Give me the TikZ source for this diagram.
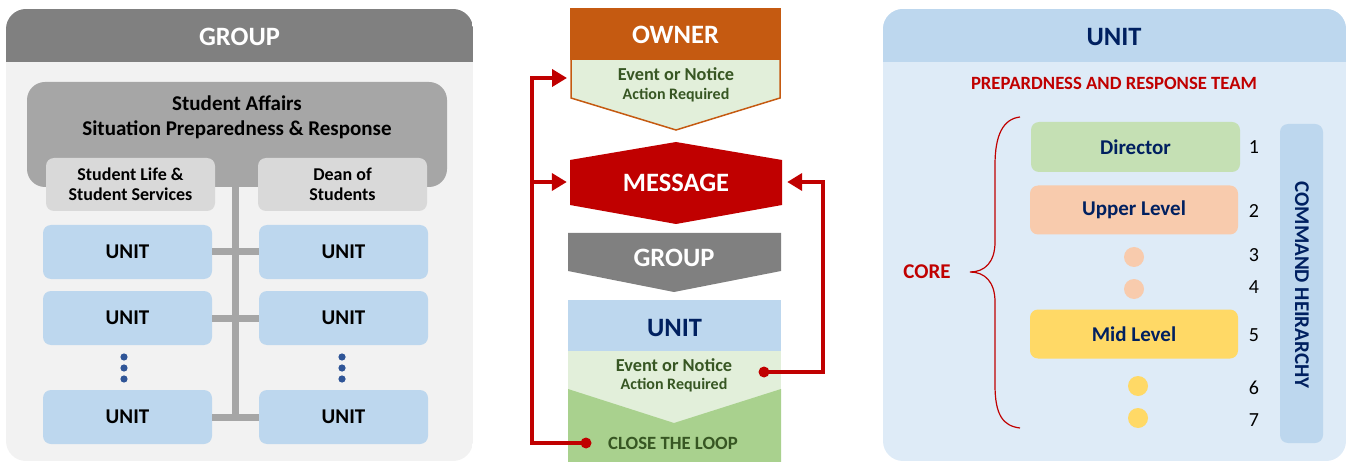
\documentclass[tikz,border=0pt]{standalone}
\usepackage{fontspec}
\setmainfont{Carlito}
\usetikzlibrary{arrows.meta}
\definecolor{hdrgray}{HTML}{808080}
\definecolor{bodygray}{HTML}{F2F2F2}
\definecolor{midgray}{HTML}{A6A6A6}
\definecolor{ltgray}{HTML}{D9D9D9}
\definecolor{unitblue}{HTML}{BDD7EE}
\definecolor{paleblue}{HTML}{DEEBF7}
\definecolor{navy}{HTML}{002060}
\definecolor{dotblue}{HTML}{2F5597}
\definecolor{ownor}{HTML}{C55A11}
\definecolor{palegreen}{HTML}{E2EFDA}
\definecolor{dkgreen}{HTML}{375623}
\definecolor{midgreen}{HTML}{A9D18E}
\definecolor{msgred}{HTML}{C00000}
\definecolor{dirgreen}{HTML}{C5E0B4}
\definecolor{peach}{HTML}{F8CBAD}
\definecolor{gold}{HTML}{FFD966}
\newcommand{\fs}[1]{\fontsize{#1}{#1}\selectfont}
\tikzset{
  hdrtext/.style={inner sep=0, font=\fs{26.5}\bfseries, text=white},
  unitbox/.style={fill=unitblue, rounded corners=8pt, minimum width=169pt, minimum height=54pt, inner sep=0, font=\fs{21}\bfseries},
  subbox/.style={fill=ltgray, rounded corners=8pt, minimum width=169pt, minimum height=53pt, inner sep=0, align=center, font=\fs{18}\bfseries},
  trunkline/.style={draw=midgray, line width=7pt},
  greentext/.style={inner sep=0, text=dkgreen, font=\fs{18.3}\bfseries},
  greensmall/.style={inner sep=0, text=dkgreen, font=\fs{16}\bfseries},
  redline/.style={draw=msgred, line width=4pt},
  redarrow/.style={redline, -{Triangle[length=15pt,width=17pt]}},
  levelbox/.style={rounded corners=8pt, minimum width=208pt, minimum height=49pt, inner sep=0, text=navy, font=\fs{21}\bfseries},
  numtext/.style={inner sep=0, font=\fs{20}},
}
\begin{document}
\begin{tikzpicture}[x=1pt,y=-1pt]
\useasboundingbox (0,0) rectangle (1351,462);
% ---------------- left panel
\begin{scope}
\clip[rounded corners=20pt] (6,9) rectangle (473,461);
\fill[bodygray] (6,9) rectangle (473,461);
\fill[hdrgray] (6,9) rectangle (473,62);
\end{scope}
\node[hdrtext] (lgroup) at (239.5,37) {GROUP};
\node[fill=midgray, rounded corners=18pt, minimum width=420pt, minimum height=105pt, inner sep=0] (sa) at (237,134.5) {};
\node[inner sep=0, align=center, font=\fs{21}\bfseries] (satext) at (237,117) {Student Affairs\\[4pt]Situation Preparedness \& Response};
\coordinate (trunk) at (235,0);
\node[unitbox] (u1l) at (127.5,252) {UNIT};
\node[unitbox] (u1r) at (343.5,252) {UNIT};
\node[unitbox] (u2l) at (127.5,318) {UNIT};
\node[unitbox] (u2r) at (343.5,318) {UNIT};
\node[unitbox] (u3l) at (127.5,417) {UNIT};
\node[unitbox] (u3r) at (343.5,417) {UNIT};
\draw[trunkline] (sa.south -| trunk) -- (trunk |- u3l.east);
\draw[trunkline] (u1l.east) -- (u1r.west);
\draw[trunkline] (u2l.east) -- (u2r.west);
\draw[trunkline] (u3l.east) -- (u3r.west);
\node[subbox] (sl) at (130.5,184.5) {Student Life \&\\[2pt]Student Services};
\node[subbox] (ds) at (342.5,184.5) {Dean of\\[2pt]Students};
\foreach \yy in {357,368,379}{
  \fill[dotblue] (124,\yy) circle (3.6pt);
  \fill[dotblue] (342,\yy) circle (3.6pt);
}
% ---------------- middle
\draw[draw=ownor, fill=palegreen, line width=1.5pt] (571,60) -- (571,98) -- (676,130) -- (780,98) -- (780,60);
\node[fill=ownor, minimum width=211pt, minimum height=52pt, inner sep=0] (owner) at (675.5,34) {};
\node[hdrtext] (ownertext) at (675.5,35) {OWNER};
\node[greentext] (ev1) at (676,74) {Event or Notice};
\node[greensmall] (ar1) at (676,95) {Action Required};
\fill[msgred] (570,160) -- (676,142) -- (782,160) -- (782,205) -- (676,224) -- (570,205) -- cycle;
\node[minimum width=212pt, minimum height=45pt, inner sep=0] (msg) at (676,182) {};
\node[hdrtext] (msgtext) at (676,183) {MESSAGE};
\fill[hdrgray] (568,233) -- (781,233) -- (781,271) -- (674,292) -- (568,271) -- cycle;
\node[hdrtext] (mgroup) at (674,258) {GROUP};
\node[fill=unitblue, minimum width=213pt, minimum height=51pt, inner sep=0] (munit) at (674.5,325.5) {};
\node[hdrtext, text=navy] (munittext) at (674.5,328) {UNIT};
\fill[palegreen] (568,351) rectangle (781,462);
\fill[midgreen] (568,389) -- (674,423) -- (781,389) -- (781,462) -- (568,462) -- cycle;
\node[greentext] (ev2) at (674,365) {Event or Notice};
\node[greensmall] (ar2) at (674,385) {Action Required};
\node[greentext, font=\fs{18.7}\bfseries] (close) at (673,443) {CLOSE THE LOOP};
\coordinate (ldot) at (586,443);
\coordinate (rdot) at (764,372);
\coordinate (lbot) at (532,443);
\coordinate (ltop) at (532,78);
\coordinate (ownin) at (567,78);
\coordinate (rtop) at (823,182);
\draw[redarrow, line join=miter] (ldot) -- (lbot) -- (ltop) -- (ownin);
\draw[redarrow] (lbot |- msg.west) -- ([xshift=-3pt]msg.west);
\draw[redarrow, line join=miter] (rdot) -- (rdot -| rtop) -- (rtop) -- ([xshift=5pt]msg.east);
\fill[msgred] (ldot) circle (5.5pt);
\fill[msgred] (rdot) circle (5.5pt);
% ---------------- right panel
\begin{scope}
\clip[rounded corners=20pt] (883,9) rectangle (1346,461);
\fill[paleblue] (883,9) rectangle (1346,461);
\fill[unitblue] (883,9) rectangle (1346,62);
\end{scope}
\node[hdrtext, text=navy] (runit) at (1114,37) {UNIT};
\node[inner sep=0, text=msgred, font=\fs{18.7}\bfseries] (prt) at (1114,83) {PREPARDNESS AND RESPONSE TEAM};
\node[levelbox, fill=dirgreen, minimum width=209pt, minimum height=50pt] (dir) at (1135.5,147) {Director};
\node[levelbox, fill=peach] (upper) at (1134,210) {Upper Level};
\node[levelbox, fill=gold] (mid) at (1134,334) {Mid Level};
\fill[peach] (1134,257) circle (10pt);
\fill[peach] (1134,289) circle (10pt);
\fill[gold] (1138,386) circle (10pt);
\fill[gold] (1138,418) circle (10pt);
\node[numtext] (n1) at (1254,147) {1};
\node[numtext] (n2) at (1254,211) {2};
\node[numtext] (n3) at (1254,255) {3};
\node[numtext] (n4) at (1254,287) {4};
\node[numtext] (n5) at (1254,335) {5};
\node[numtext] (n6) at (1254,388) {6};
\node[numtext] (n7) at (1254,420) {7};
\node[fill=unitblue, rounded corners=8pt, minimum width=43pt, minimum height=319pt, inner sep=0] (cmd) at (1301.5,283.5) {};
\node[rotate=-90, inner sep=0, text=navy, font=\fs{21}\bfseries] (cmdtext) at (1302,285) {COMMAND HEIRARCHY};
\draw[msgred, line width=1.2pt] (1020,117) .. controls (1003,119) and (995,135) .. (995,165) -- (995,242) .. controls (995,262) and (985,272) .. (970,272) .. controls (985,272) and (995,282) .. (995,302) -- (995,385) .. controls (995,415) and (1003,426) .. (1020,428);
\node[inner sep=0, text=msgred, font=\fs{21}\bfseries] (core) at (927,272) {CORE};
\end{tikzpicture}
\end{document}
